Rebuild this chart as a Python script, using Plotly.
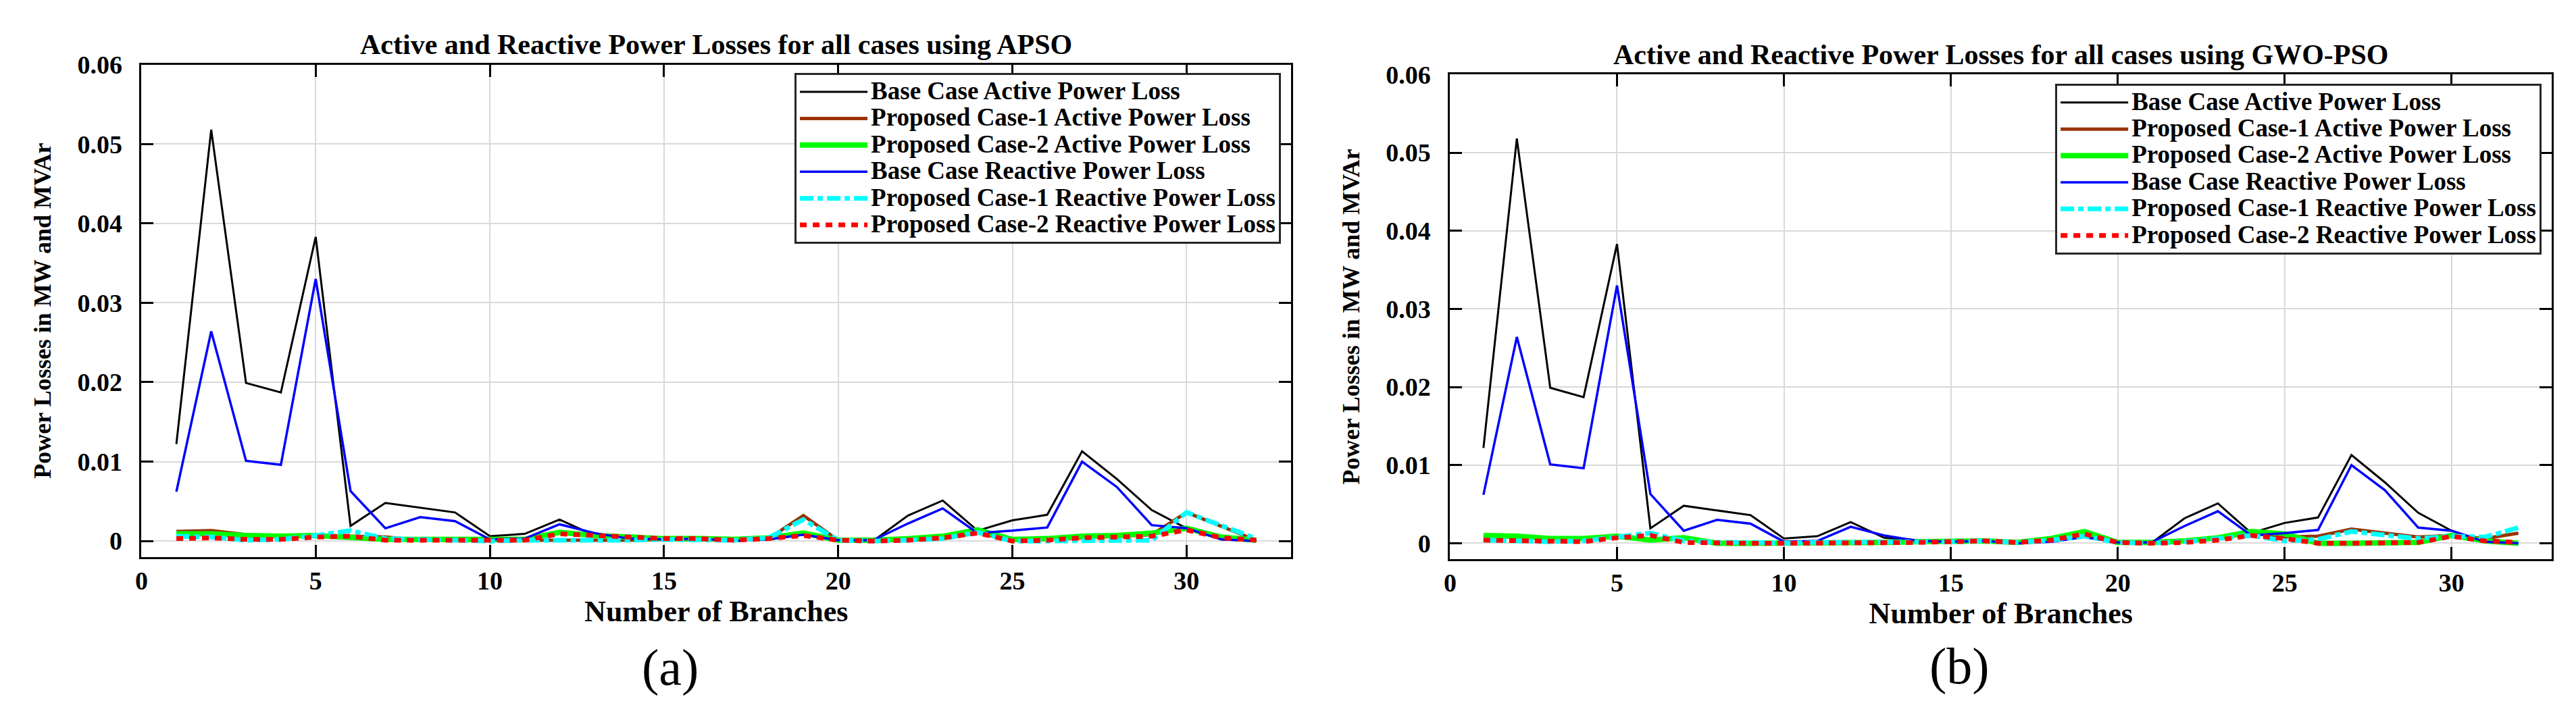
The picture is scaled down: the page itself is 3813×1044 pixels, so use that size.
import plotly.graph_objects as go

branches = list(range(1, 33))

base_active = [0.0122, 0.0518, 0.0199, 0.0187, 0.0383, 0.0019, 0.0048, 0.0042, 0.0036, 0.0006,
               0.0009, 0.0027, 0.0007, 0.0004, 0.0003, 0.0003, 0.0001, 0.0002, 0.0008, 0.0001,
               0.0000, 0.0032, 0.0051, 0.0013, 0.0026, 0.0033, 0.0113, 0.0078, 0.0039, 0.0016,
               0.0002, 0.0000]
base_reactive = [0.0062, 0.0264, 0.0101, 0.0096, 0.0330, 0.0063, 0.0016, 0.0030, 0.0025, 0.0002,
                 0.0003, 0.0021, 0.0010, 0.0003, 0.0002, 0.0003, 0.0000, 0.0002, 0.0008, 0.0001,
                 0.0001, 0.0022, 0.0041, 0.0010, 0.0013, 0.0017, 0.0100, 0.0068, 0.0020, 0.0016,
                 0.0002, 0.0000]

# (a) APSO
apso_case1_active = [0.0012, 0.0013, 0.0008, 0.0006, 0.0007, 0.0006, 0.0005, 0.0001, 0.0001, 0.0000,
                     0.0000, 0.0000, 0.0000, 0.0001, 0.0002, 0.0002, 0.0001, 0.0003, 0.0032, 0.0001,
                     0.0000, 0.0001, 0.0003, 0.0010, 0.0001, 0.0002, 0.0004, 0.0005, 0.0008, 0.0036,
                     0.0018, 0.0001]
apso_case2_active = [0.0009, 0.0009, 0.0007, 0.0006, 0.0007, 0.0004, 0.0002, 0.0002, 0.0002, 0.0001,
                     0.0002, 0.0011, 0.0007, 0.0005, 0.0003, 0.0003, 0.0002, 0.0004, 0.0010, 0.0001,
                     0.0001, 0.0003, 0.0006, 0.0014, 0.0002, 0.0003, 0.0006, 0.0007, 0.0010, 0.0016,
                     0.0005, 0.0001]
apso_case1_reactive = [0.0006, 0.0005, 0.0001, 0.0002, 0.0007, 0.0013, 0.0003, 0.0002, 0.0002, 0.0000,
                       0.0001, 0.0001, 0.0000, 0.0001, 0.0002, 0.0002, 0.0001, 0.0004, 0.0027, 0.0001,
                       0.0000, 0.0001, 0.0003, 0.0011, 0.0000, 0.0000, 0.0000, 0.0000, 0.0001, 0.0036,
                       0.0020, 0.0003]
apso_case2_reactive = [0.0003, 0.0004, 0.0002, 0.0002, 0.0005, 0.0006, 0.0001, 0.0001, 0.0001, 0.0000,
                       0.0001, 0.0009, 0.0007, 0.0004, 0.0003, 0.0003, 0.0001, 0.0003, 0.0007, 0.0001,
                       0.0000, 0.0001, 0.0004, 0.0010, 0.0000, 0.0001, 0.0004, 0.0005, 0.0006, 0.0014,
                       0.0004, 0.0001]

# (b) GWO-PSO
gwo_case1_active = [0.0009, 0.0008, 0.0006, 0.0005, 0.0008, 0.0005, 0.0007, 0.0001, 0.0000, 0.0000,
                    0.0000, 0.0000, 0.0000, 0.0001, 0.0003, 0.0003, 0.0001, 0.0005, 0.0013, 0.0001,
                    0.0000, 0.0002, 0.0006, 0.0013, 0.0008, 0.0009, 0.0018, 0.0013, 0.0008, 0.0010,
                    0.0006, 0.0013]
gwo_case2_active = [0.0010, 0.0009, 0.0006, 0.0006, 0.0009, 0.0004, 0.0007, 0.0000, 0.0000, 0.0000,
                    0.0000, 0.0001, 0.0001, 0.0002, 0.0003, 0.0003, 0.0001, 0.0006, 0.0015, 0.0001,
                    0.0001, 0.0003, 0.0007, 0.0015, 0.0012, 0.0000, 0.0000, 0.0000, 0.0001, 0.0010,
                    0.0003, 0.0000]
gwo_case1_reactive = [0.0004, 0.0003, 0.0002, 0.0003, 0.0008, 0.0013, 0.0003, 0.0001, 0.0001, 0.0000,
                      0.0001, 0.0001, 0.0001, 0.0001, 0.0002, 0.0003, 0.0001, 0.0004, 0.0009, 0.0001,
                      0.0000, 0.0002, 0.0006, 0.0010, 0.0003, 0.0005, 0.0015, 0.0010, 0.0006, 0.0009,
                      0.0008, 0.0020]
gwo_case2_reactive = [0.0004, 0.0003, 0.0002, 0.0002, 0.0007, 0.0010, 0.0001, 0.0000, 0.0000, 0.0000,
                      0.0000, 0.0000, 0.0000, 0.0001, 0.0002, 0.0003, 0.0001, 0.0004, 0.0012, 0.0001,
                      0.0000, 0.0001, 0.0004, 0.0010, 0.0006, 0.0000, 0.0000, 0.0000, 0.0001, 0.0009,
                      0.0003, 0.0001]

series_names = ["Base Case Active Power Loss", "Proposed Case-1 Active Power Loss",
                "Proposed Case-2 Active Power Loss", "Base Case Reactive Power Loss",
                "Proposed Case-1 Reactive Power Loss", "Proposed Case-2 Reactive Power Loss"]
titles = ["Active and Reactive Power Losses for all cases using APSO",
          "Active and Reactive Power Losses for all cases using GWO-PSO"]
panel_labels = ["(a)", "(b)"]
x_title = "Number of Branches"
y_title = "Power Losses in MW and MVAr"

styles = [
    dict(color="#000000", width=3, dash="solid"),
    dict(color="#993300", width=5, dash="solid"),
    dict(color="#00ff00", width=8, dash="solid"),
    dict(color="#0000ff", width=3.5, dash="solid"),
    dict(color="#00ffff", width=7, dash="20px,6px,8px,6px"),
    dict(color="#ff0000", width=7, dash="10px,9px"),
]

FONT = "Liberation Serif"
W, H = 3813, 1044
LEGEND_TEXT_PX = 37

panels = [
    [base_active, apso_case1_active, apso_case2_active, base_reactive, apso_case1_reactive, apso_case2_reactive],
    [base_active, gwo_case1_active, gwo_case2_active, base_reactive, gwo_case1_reactive, gwo_case2_reactive],
]

fig = go.Figure()
for p, data in enumerate(panels):
    xa = "x" if p == 0 else "x2"
    ya = "y" if p == 0 else "y2"
    lg = "legend" if p == 0 else "legend2"
    for name, vals, st in zip(series_names, data, styles):
        label = '<span style="font-size:%dpx">%s</span>' % (LEGEND_TEXT_PX, name)
        fig.add_trace(go.Scatter(x=branches, y=vals, mode="lines", name=label,
                                 line=dict(color=st["color"], width=st["width"], dash=st["dash"]),
                                 xaxis=xa, yaxis=ya, legend=lg))

# plot-area geometry (pixels)
boxes = [(192, 1898, 68, 812), (2134, 3769, 83, 815)]

def xdom(b):
    return [b[0] / W, b[1] / W]

def ydom(b):
    return [1 - b[3] / H, 1 - b[2] / H]

axis_common = dict(showline=True, linewidth=3, linecolor="black", mirror="ticks",
                   ticks="inside", ticklen=18, tickwidth=3, tickcolor="black",
                   showgrid=True, gridcolor="#d9d9d9", gridwidth=2, zeroline=False,
                   tickfont=dict(family=FONT, size=38, color="black", weight="bold"))

for p, b in enumerate(boxes):
    sx = "" if p == 0 else "2"
    fig.layout["xaxis" + sx] = dict(axis_common, domain=xdom(b), range=[0, 33], dtick=5, tick0=0,
                                    anchor="y" + sx, ticklabelstandoff=0,
                                    title=dict(text=x_title, standoff=4,
                                               font=dict(family=FONT, size=44, color="black", weight="bold")))
    fig.layout["yaxis" + sx] = dict(axis_common, domain=ydom(b), range=[-0.002, 0.06], dtick=0.01, tick0=0,
                                    anchor="x" + sx, ticklabelstandoff=18,
                                    title=dict(text=y_title, standoff=28,
                                               font=dict(family=FONT, size=36, color="black", weight="bold")))

legend_common = dict(bgcolor="white", bordercolor="#262626", borderwidth=3, itemwidth=100,
                     font=dict(family=FONT, size=28, color="black", weight="bold"),
                     xanchor="right", yanchor="top", tracegroupgap=0)
fig.update_layout(
    legend=dict(legend_common, x=1883 / W, y=1 - 81 / H),
    legend2=dict(legend_common, x=3754 / W, y=1 - 97 / H),
)

annotations = []
title_pos = [((192 + 1898) / 2, 38), ((2134 + 3769) / 2, 53)]
for t, (cx, cy) in zip(titles, title_pos):
    annotations.append(dict(text=t, x=cx / W, y=1 - cy / H, xref="paper", yref="paper",
                            showarrow=False, xanchor="center", yanchor="middle",
                            font=dict(family=FONT, size=42, color="black", weight="bold")))
label_pos = [(977, 979), (2890, 977)]
for t, (cx, cy) in zip(panel_labels, label_pos):
    annotations.append(dict(text=t, x=cx / W, y=1 - cy / H, xref="paper", yref="paper",
                            showarrow=False, xanchor="center", yanchor="middle",
                            font=dict(family=FONT, size=76, color="black")))

fig.update_layout(width=W, height=H, margin=dict(l=0, r=0, t=0, b=0),
                  paper_bgcolor="white", plot_bgcolor="white",
                  annotations=annotations, showlegend=True)

fig.write_html("out.html")
